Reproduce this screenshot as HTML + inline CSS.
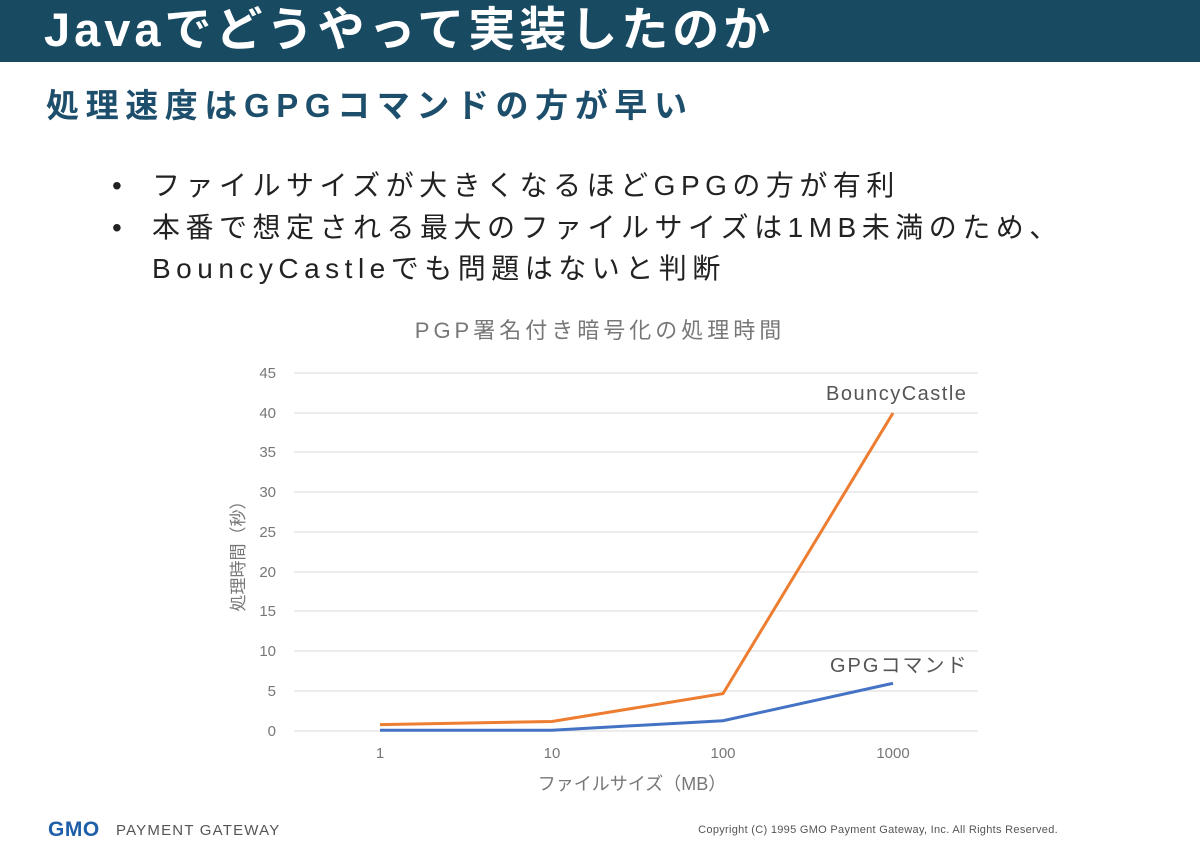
<!DOCTYPE html>
<html><head><meta charset="utf-8"><style>
body{margin:0;width:1200px;height:848px;background:#fff;position:relative;overflow:hidden;font-family:"Liberation Sans","Noto Sans CJK JP",sans-serif}
.hd{position:absolute;left:0;top:0;width:1200px;height:62px;background:#184a62}
.t{position:absolute;left:44px;top:2px;color:#fff;font-size:47px;font-weight:bold;line-height:56px;white-space:nowrap;letter-spacing:4px}
.s{position:absolute;left:46px;top:85px;color:#1d4e6b;font-size:33px;font-weight:bold;line-height:42px;white-space:nowrap;letter-spacing:6.6px}
.b{position:absolute;font-size:28px;color:#222;line-height:40px;white-space:nowrap;letter-spacing:5.5px}
</style></head><body>
<div class="hd"></div>
<div class="t">Javaでどうやって実装したのか</div>
<div class="s">処理速度はGPGコマンドの方が早い</div>
<div class="b" style="left:112px;top:166px">•</div>
<div class="b" style="left:152px;top:166px">ファイルサイズが大きくなるほどGPGの方が有利</div>
<div class="b" style="left:112px;top:208px">•</div>
<div class="b" style="left:152px;top:208px">本番で想定される最大のファイルサイズは1MB未満のため、</div>
<div class="b" style="left:152px;top:249px">BouncyCastleでも問題はないと判断</div>
<svg width="1200" height="848" style="position:absolute;left:0;top:0" font-family="Liberation Sans,Noto Sans CJK JP,sans-serif">
<text x="600" y="338" text-anchor="middle" font-size="22" fill="#777" letter-spacing="4">PGP署名付き暗号化の処理時間</text>
<g stroke="#d9d9d9" stroke-width="1">
<line x1="294" x2="978" y1="373" y2="373"/><line x1="294" x2="978" y1="413" y2="413"/><line x1="294" x2="978" y1="452" y2="452"/><line x1="294" x2="978" y1="492" y2="492"/><line x1="294" x2="978" y1="532" y2="532"/><line x1="294" x2="978" y1="572" y2="572"/><line x1="294" x2="978" y1="611" y2="611"/><line x1="294" x2="978" y1="651" y2="651"/><line x1="294" x2="978" y1="691" y2="691"/><line x1="294" x2="978" y1="731" y2="731"/>
</g>
<g font-size="15" fill="#777" text-anchor="end">
<text x="276" y="378">45</text><text x="276" y="418">40</text><text x="276" y="457">35</text><text x="276" y="497">30</text><text x="276" y="537">25</text><text x="276" y="577">20</text><text x="276" y="616">15</text><text x="276" y="656">10</text><text x="276" y="696">5</text><text x="276" y="736">0</text>
</g>
<g font-size="15" fill="#777" text-anchor="middle">
<text x="380" y="758">1</text><text x="552" y="758">10</text><text x="723" y="758">100</text><text x="893" y="758">1000</text>
</g>
<text x="632" y="790" text-anchor="middle" font-size="18" fill="#777">ファイルサイズ（MB）</text>
<text transform="translate(244,552) rotate(-90)" text-anchor="middle" font-size="17" fill="#777">処理時間（秒）</text>
<polyline fill="none" stroke="#ed7d31" stroke-width="3" points="380,724.6 552,721.5 723,693.6 893,413"/>
<polyline fill="none" stroke="#4472c4" stroke-width="3" points="380,730.2 552,730.2 723,720.7 893,683.3"/>
<text x="826" y="400" font-size="20" fill="#555" letter-spacing="1.5">BouncyCastle</text>
<text x="830" y="672" font-size="20" fill="#555" letter-spacing="2">GPGコマンド</text>
<text x="48" y="836" font-size="21" font-weight="bold" fill="#1f5fa8" letter-spacing="0.5">GMO</text>
<text x="116" y="835" font-size="15" fill="#555" letter-spacing="1.2">PAYMENT GATEWAY</text>
<text x="1058" y="833" text-anchor="end" font-size="11" fill="#555" letter-spacing="0.3">Copyright (C) 1995 GMO Payment Gateway, Inc. All Rights Reserved.</text>
</svg>
</body></html>
